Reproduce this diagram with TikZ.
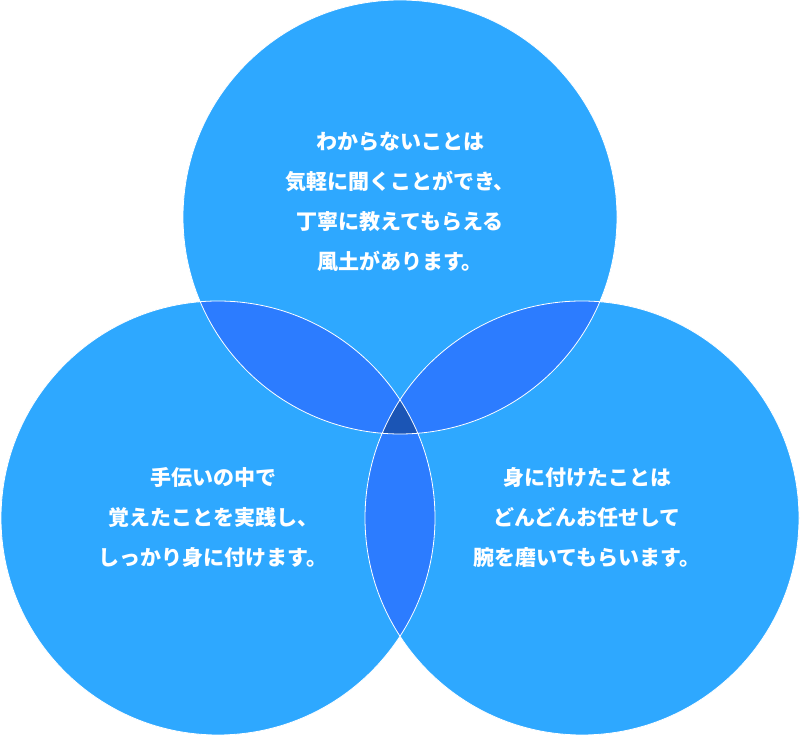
\documentclass[tikz,border=0pt]{standalone}
\usepackage{fontspec}
\newfontfamily\cjk{Noto Sans CJK JP}
\definecolor{cmain}{HTML}{2EA8FF}
\definecolor{cpair}{HTML}{2C7CFF}
\definecolor{ctri}{HTML}{1B55B5}
\begin{document}
\begin{tikzpicture}[x=1pt,y=1pt,
  lbl/.style={text=white,font=\cjk\bfseries\fontsize{21}{40}\selectfont,align=center}]
\useasboundingbox (0,0) rectangle (800,735);
\def\R{217}
\coordinate (A) at (400,518);
\coordinate (B) at (218,217);
\coordinate (C) at (582,217);
\fill[cmain] (A) circle (\R) (B) circle (\R) (C) circle (\R);
\begin{scope}\clip (A) circle (\R); \fill[cpair] (B) circle (\R) (C) circle (\R);\end{scope}
\begin{scope}\clip (B) circle (\R); \fill[cpair] (C) circle (\R);\end{scope}
\begin{scope}\clip (A) circle (\R); \clip (B) circle (\R); \fill[ctri] (C) circle (\R);\end{scope}
\draw[white,line width=0.8pt] (A) circle (\R) (B) circle (\R) (C) circle (\R);
\node[lbl] (ta) at (400,533) {わからないことは\\気軽に聞くことができ、\\丁寧に教えてもらえる\\風土があります。};
\node[lbl] (tb) at (213,217) {手伝いの中で\\覚えたことを実践し、\\しっかり身に付けます。};
\node[lbl] (tc) at (587,217) {身に付けたことは\\どんどんお任せして\\腕を磨いてもらいます。};
\end{tikzpicture}
\end{document}
